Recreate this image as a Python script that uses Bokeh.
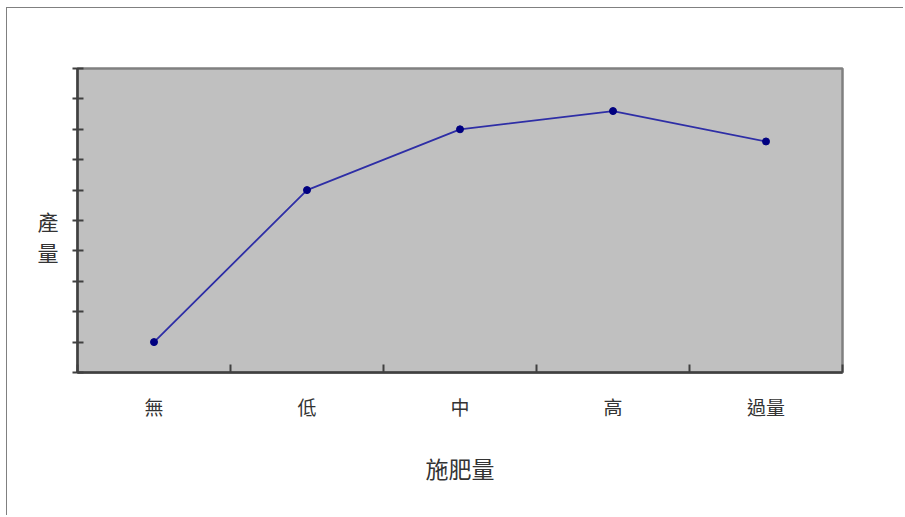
from bokeh.plotting import figure
from bokeh.models import FixedTicker, Range1d
from bokeh.embed import file_html
from bokeh.resources import INLINE

categories = ["無", "低", "中", "高", "過量"]
yields = [1.0, 6.0, 8.0, 8.6, 7.6]
y_ticks = list(range(0, 11))
x_title = "施肥量"
y_title = "產量"

x_pos = [i + 0.5 for i in range(len(categories))]

FONT = "Noto Sans CJK TC"

p = figure(width=897, height=508, output_backend="svg", toolbar_location=None,
           x_range=Range1d(0, len(categories)), y_range=Range1d(0, 10),
           min_border_left=70, min_border_right=62, min_border_top=60, min_border_bottom=144)

p.styles = {"border-left": "1.5px solid #808080", "border-top": "1.5px solid #808080",
            "margin-left": "6px", "margin-top": "7px"}

p.background_fill_color = "#c0c0c0"
p.border_fill_color = "white"
p.outline_line_color = "#808080"
p.outline_line_width = 2.5
p.xgrid.visible = False
p.ygrid.visible = False

p.line(x_pos, yields, line_color="#2e2ea6", line_width=1.8)
p.scatter(x_pos, yields, size=7, fill_color="#000080", line_color="#000080")

# x axis
xa = p.xaxis[0]
xa.ticker = FixedTicker(ticks=x_pos, minor_ticks=list(range(len(categories) + 1)))
xa.major_label_overrides = {x: c for x, c in zip(x_pos, categories)}
xa.major_tick_line_color = None
xa.major_tick_in = 0
xa.major_tick_out = 0
xa.minor_tick_in = 8
xa.minor_tick_out = 0
xa.minor_tick_line_color = "#404040"
xa.minor_tick_line_width = 2
xa.axis_line_color = "#404040"
xa.axis_line_width = 2.5
xa.major_label_text_font = FONT
xa.major_label_text_font_size = "19px"
xa.major_label_text_color = "#333333"
xa.major_label_standoff = 20
xa.axis_label = x_title
xa.axis_label_text_font = FONT
xa.axis_label_text_font_size = "23px"
xa.axis_label_text_font_style = "normal"
xa.axis_label_text_color = "#333333"
xa.axis_label_standoff = 28

# y axis
ya = p.yaxis[0]
ya.ticker = FixedTicker(ticks=y_ticks)
ya.major_label_overrides = {t: "" for t in y_ticks}
ya.major_tick_in = 6
ya.major_tick_out = 5
ya.major_tick_line_color = "#404040"
ya.major_tick_line_width = 2
ya.minor_tick_line_color = None
ya.axis_line_color = "#404040"
ya.axis_line_width = 2.5
ya.major_label_standoff = 0
ya.axis_label = " \n" + "\n".join(y_title)
ya.axis_label_orientation = "horizontal"
ya.axis_label_text_font = FONT
ya.axis_label_text_font_size = "21px"
ya.axis_label_text_font_style = "normal"
ya.axis_label_text_color = "#333333"
ya.axis_label_text_line_height = 1.05
ya.axis_label_standoff = 14

open("out.html", "w").write(file_html(p, INLINE))
